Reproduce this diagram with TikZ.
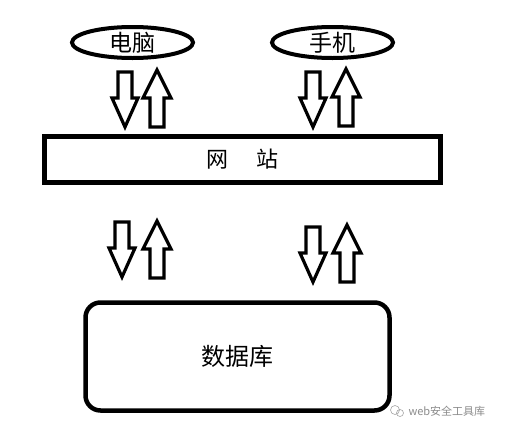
\documentclass[tikz,border=0pt]{standalone}
\usepackage{fontspec}
\usepackage{tikz}
\usetikzlibrary{shapes.geometric}
\newfontfamily\cjk{Noto Sans CJK SC}

\tikzset{
  box/.style={draw, line width=4.5pt, inner sep=0pt},
  client/.style={box, ellipse, line width=4pt, minimum width=121pt, minimum height=31pt,
    font=\cjk\fontsize{23pt}{23pt}\selectfont},
  blockarrow/.style={draw, line width=3.2pt, fill=white, line join=miter},
  downarr/.pic={\path[blockarrow] (-7,0) -- (7,0) -- (7,26) -- (13,26) -- (0,55) -- (-13,26) -- (-7,26) -- cycle;},
  uparr/.pic={\path[blockarrow] (0,0) -- (14,28) -- (7,28) -- (7,57) -- (-7,57) -- (-7,28) -- (-14,28) -- cycle;}
}

\begin{document}
\begin{tikzpicture}[x=1pt, y=-1pt]
        \useasboundingbox[fill=white] (0,0) rectangle (505,434);

        % clients
        \node[client] (pc) at (132.5, 42.5) {电脑};
        \node[client] (phone) at (332.5, 42.5) {手机};

        % website
        \node[box, minimum width=396pt, minimum height=46pt,
          font=\cjk\fontsize{22pt}{22pt}\selectfont] (site) at (242.5, 159.5) {网\hspace{28pt}站};

        % database
        \node[box, rounded corners=15pt, minimum width=304pt, minimum height=108pt,
          font=\cjk\fontsize{24pt}{24pt}\selectfont] (db) at (237.5, 356.5) {数据库};

        % arrows pc <-> site
        \draw (125, 72) pic {downarr};
        \draw (157, 70) pic {uparr};
        % arrows phone <-> site
        \draw (313, 72) pic {downarr};
        \draw (346, 69) pic {uparr};
        % arrows site <-> db
        \draw (122, 222) pic {downarr};
        \draw (157, 221) pic {uparr};
        \draw (313, 227) pic {downarr};
        \draw (347, 225) pic {uparr};

        % watermark
        \node[font=\cjk\fontsize{11pt}{11pt}\selectfont, text=black!45, anchor=west] (mark) at (405, 411) {web安全工具库};
        \draw[black!35, line width=0.6pt] (395, 410) circle (4.5) (400, 413) circle (3.5);
      \end{tikzpicture}
\end{document}
